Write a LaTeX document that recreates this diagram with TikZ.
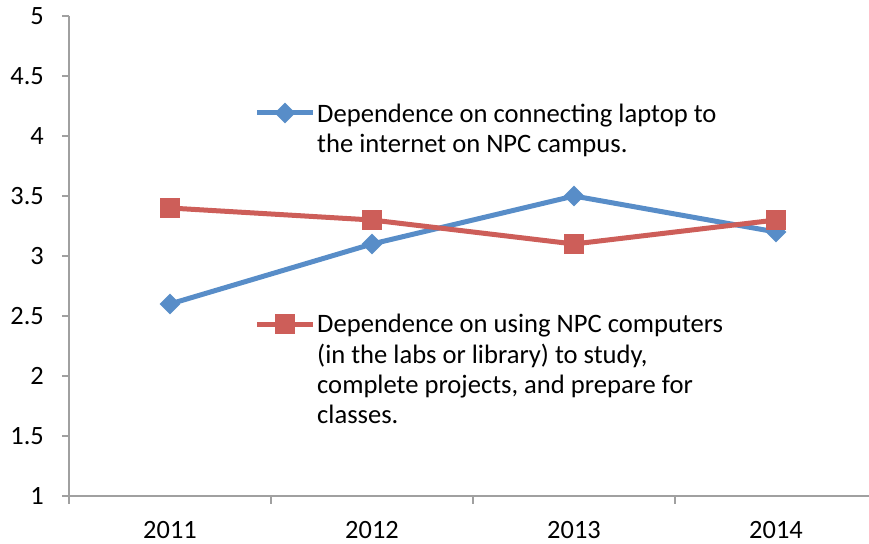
\documentclass[tikz,border=0pt]{standalone}
\usepackage{fontspec}
\setmainfont{Carlito}
\usetikzlibrary{shapes.geometric}
\definecolor{serblue}{RGB}{88,141,200}
\definecolor{serred}{RGB}{205,94,89}
\definecolor{axgray}{RGB}{160,160,160}
\tikzset{
  axisline/.style={draw=axgray, line width=1.5bp},
  bluser/.style={draw=serblue, line width=5bp, line join=round},
  redser/.style={draw=serred, line width=5bp, line join=round},
  bluemark/.style={diamond, fill=serblue, draw=none, minimum width=21bp, minimum height=21bp, inner sep=0},
  redmark/.style={rectangle, fill=serred, draw=none, minimum size=20bp, inner sep=0},
  ticklab/.style={font=\fontsize{26.5}{30}\selectfont, inner sep=0},
  legtext/.style={font=\fontsize{26.7}{30}\selectfont, inner sep=0, anchor=base west},
}
\begin{document}
\begin{tikzpicture}[x=1bp, y=-1bp]
\useasboundingbox (0,0) rectangle (869,544);
% axes
\coordinate (ytop) at (69,16);
\coordinate (ybot) at (69,504);
\coordinate (xl) at (62,496);
\coordinate (xr) at (869,496);
\draw[axisline] (ytop) -- (ybot);
\draw[axisline] (xl) -- (xr);
\foreach \v/\py in {5/16,4.5/76,4/136,3.5/196,3/256,2.5/316,2/376,1.5/436,1/496}{
  \coordinate (yt\py) at (62,\py);
  \coordinate (ya\py) at (69,\py);
  \draw[axisline] (yt\py) -- (ya\py);
  \node[ticklab, anchor=east] (yl\py) at (44,\py) {\v};
}
\foreach \px in {271,473,675}{
  \coordinate (xa\px) at (\px,496);
  \coordinate (xt\px) at (\px,504);
  \draw[axisline] (xa\px) -- (xt\px);
}
\foreach \yr/\px in {2011/170,2012/372,2013/574,2014/776}{
  \node[ticklab] (xl\yr) at (\px,530) {\yr};
}
% data
\coordinate (b1) at (170,304);
\coordinate (b2) at (372,244);
\coordinate (b3) at (574,196);
\coordinate (b4) at (776,232);
\coordinate (r1) at (170,208);
\coordinate (r2) at (372,220);
\coordinate (r3) at (574,244);
\coordinate (r4) at (776,220);
\draw[bluser] (b1) -- (b2) -- (b3) -- (b4);
\foreach \i in {1,2,3,4}{\node[bluemark] (bm\i) at (b\i) {};}
\draw[redser] (r1) -- (r2) -- (r3) -- (r4);
\foreach \i in {1,2,3,4}{\node[redmark] (rm\i) at (r\i) {};}
% legend
\coordinate (lb1) at (257,113);
\coordinate (lb2) at (313,113);
\draw[bluser] (lb1) -- (lb2);
\node[bluemark] (lbm) at (285,113) {};
\node[legtext] (lbt1) at (317,123) {Dependence on connecting laptop to};
\node[legtext] (lbt2) at (317,153) {the internet on NPC campus.};
\coordinate (lr1) at (257,324);
\coordinate (lr2) at (313,324);
\draw[redser] (lr1) -- (lr2);
\node[redmark] (lrm) at (285,324) {};
\node[legtext] (lrt1) at (317,333) {Dependence on using NPC computers};
\node[legtext] (lrt2) at (317,363) {(in the labs or library) to study,};
\node[legtext] (lrt3) at (317,393) {complete projects, and prepare for};
\node[legtext] (lrt4) at (317,423) {classes.};
\end{tikzpicture}
\end{document}
